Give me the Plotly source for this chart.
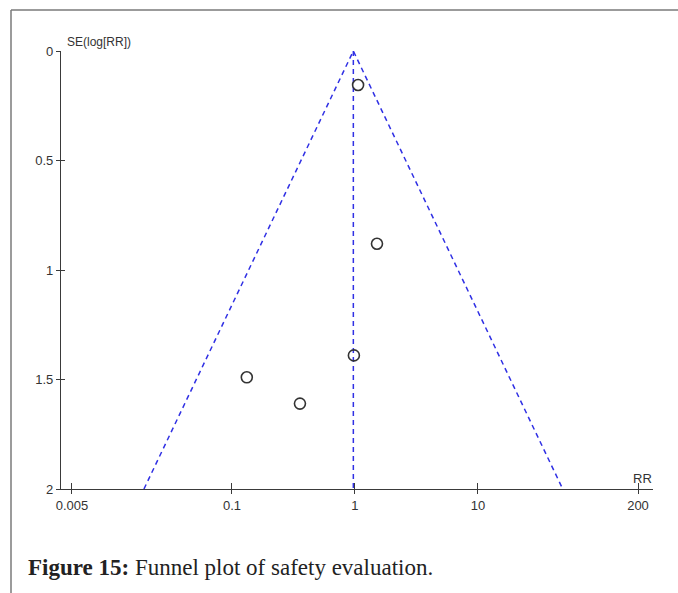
import math
import plotly.graph_objects as go

# Study data
rr_values = [1.06, 1.51, 0.98, 0.132, 0.357]
se_values = [0.155, 0.88, 1.39, 1.49, 1.61]
pooled_rr = 0.97
se_max = 2.0

x_tickvals = [0.005, 0.1, 1, 10, 200]
x_ticktext = ["0.005", "0.1", "1", "10", "200"]
y_tickvals = [0, 0.5, 1, 1.5, 2]
y_ticktext = ["0", "0.5", "1", "1.5", "2"]

W, H = 678, 593
L, R, T, B = 61, 25, 51, 104
PW, PH = W - L - R, H - T - B
x_range = [-2.39, 2.423]
y_range = [2, 0]

funnel_left = pooled_rr * math.exp(-1.96 * se_max)
funnel_right = pooled_rr * math.exp(1.96 * se_max)

blue = "rgb(48,48,228)"
axis_col = "#3a3a3a"
dash = "5px,4px"


def px_x(p):
    return (p - L) / PW


def px_y(p):
    return 1 - (p - T) / PH


fig = go.Figure()
fig.add_trace(go.Scatter(x=[funnel_left, pooled_rr, funnel_right], y=[se_max, 0, se_max],
                         mode="lines", line=dict(color=blue, width=1.5, dash=dash),
                         hoverinfo="skip", showlegend=False))
fig.add_trace(go.Scatter(x=[pooled_rr, pooled_rr], y=[0, se_max],
                         mode="lines", line=dict(color=blue, width=1.5, dash=dash),
                         hoverinfo="skip", showlegend=False))
fig.add_trace(go.Scatter(x=rr_values, y=se_values, mode="markers",
                         marker=dict(symbol="circle-open", size=11, color="#333333",
                                     line=dict(color="#333333", width=1.6)),
                         showlegend=False))
# invisible trace on overlay axes so their inside ticks render
fig.add_trace(go.Scatter(x=[1], y=[1], xaxis="x2", yaxis="y2", mode="markers",
                         marker=dict(opacity=0), hoverinfo="skip", showlegend=False))

tick_font = dict(family="Liberation Sans, Arial, sans-serif", size=13, color="#333333")

fig.update_layout(
    width=W, height=H,
    margin=dict(l=L, r=R, t=T, b=B),
    paper_bgcolor="white", plot_bgcolor="white",
    xaxis=dict(type="log", range=x_range, tickvals=x_tickvals, ticktext=x_ticktext,
               ticks="outside", ticklen=4, tickwidth=1.2, tickcolor=axis_col,
               showline=True, linecolor=axis_col, linewidth=1.3, showgrid=False,
               zeroline=False, tickfont=tick_font),
    yaxis=dict(range=y_range, tickvals=y_tickvals, ticktext=y_ticktext,
               ticks="outside", ticklen=4, tickwidth=1.2, tickcolor=axis_col,
               showline=True, linecolor=axis_col, linewidth=1.3, showgrid=False,
               zeroline=False, tickfont=tick_font),
    xaxis2=dict(type="log", range=x_range, overlaying="x", tickvals=x_tickvals,
                ticks="inside", ticklen=6, tickwidth=1.2, tickcolor=axis_col,
                showticklabels=False, showgrid=False, zeroline=False, side="bottom",
                anchor="y2"),
    yaxis2=dict(range=y_range, overlaying="y", tickvals=y_tickvals,
                ticks="inside", ticklen=4, tickwidth=1.2, tickcolor=axis_col,
                showticklabels=False, showgrid=False, zeroline=False, side="left",
                anchor="x2"),
    annotations=[
        dict(text="SE(log[RR])", xref="paper", yref="paper", x=px_x(65), y=1.0,
             xanchor="left", yanchor="bottom", showarrow=False,
             font=dict(family="Liberation Sans, Arial, sans-serif", size=12, color="#333333")),
        dict(text="RR", xref="paper", yref="paper", x=px_x(642), y=0.0,
             xanchor="center", yanchor="bottom", showarrow=False, font=tick_font, yshift=1),
        dict(text="<b>Figure 15:</b> Funnel plot of safety evaluation.",
             xref="paper", yref="paper", x=px_x(26), y=px_y(567),
             xanchor="left", yanchor="middle", showarrow=False,
             font=dict(family="Liberation Serif, Times New Roman, serif", size=23, color="#222222")),
    ],
    shapes=[
        dict(type="line", xref="paper", yref="paper",
             x0=px_x(11), x1=px_x(W + 5), y0=px_y(10), y1=px_y(10),
             line=dict(color="#7a7a7a", width=1.5)),
        dict(type="line", xref="paper", yref="paper",
             x0=px_x(11), x1=px_x(11), y0=px_y(10), y1=px_y(H + 5),
             line=dict(color="#7a7a7a", width=1.5)),
    ],
)

fig.write_html("out.html", config={"displayModeBar": False},
               post_script="document.body.style.margin='0';document.body.style.overflow='hidden';")
